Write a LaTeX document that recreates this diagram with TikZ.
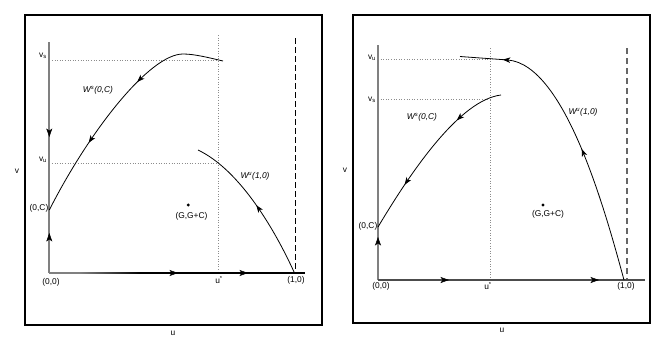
\documentclass[tikz,border=0pt]{standalone}
\usepackage{fontspec}
\setmainfont{Liberation Sans}
\usetikzlibrary{arrows.meta,decorations.markings}
\begin{document}
\begin{tikzpicture}[x=1pt,y=-1pt,
  frame/.style={line width=1.3pt},
  axis/.style={line width=1.7pt, draw=black!50},
  flow/.style={line width=0.8pt},
  guide/.style={draw=black!45, line width=0.7pt, dash pattern=on 0.8pt off 1.8pt},
  sepline/.style={line width=1pt, dash pattern=on 6pt off 3pt},
  lbl/.style={font=\fontsize{8.4}{9}\selectfont, inner sep=0pt},
  wlbl/.style={font=\fontsize{8.4}{9}\selectfont\itshape, inner sep=0pt},
  mk/.style={postaction={decorate,decoration={markings,mark=at position #1 with {\arrow[black]{Stealth[length=7.5pt,width=5.5pt,inset=2pt]}}}}},
  amk/.style={postaction={decorate,decoration={markings,mark=at position #1 with {\arrow[black]{Stealth[length=8.5pt,width=6pt,inset=2.2pt]}}}}},
]
\useasboundingbox (0,0) rectangle (665,346);
\fill[white] (0,0) rectangle (665,346);

% ================= LEFT PANEL =================
\coordinate (LF1) at (25,15);
\coordinate (LF2) at (322,325);
\draw[frame] (LF1) rectangle (LF2);

\coordinate (LO) at (49.3,273);
\coordinate (LT) at (49.3,42);
\coordinate (LC) at (49.3,210);
\coordinate (LE) at (305,273);
\coordinate (LB) at (140,273);
\coordinate (L1) at (294.5,273);
\coordinate (LDt) at (295,38);
\coordinate (LDb) at (295,273);
\coordinate (LUt) at (218,35);
\coordinate (LUb) at (218,273);
\coordinate (LS0) at (49.3,60);
\coordinate (LS1) at (218,60);
\coordinate (LV0) at (49.3,163);
\coordinate (LV1) at (218,163);
\coordinate (LWs0) at (223,61);
\coordinate (LWsP) at (183,54);
\coordinate (LWuE) at (198,150);

\draw[guide] (LUt) -- (LUb);
\draw[guide] (LS0) -- (LS1);
\draw[guide] (LV0) -- (LV1);
\draw[sepline] (LDt) -- (LDb);

\draw[axis] (LT) -- (LO);
\draw[axis] (LO) -- (LE);
\shade[left color=black!50, right color=black] (80,272.2) rectangle (140,273.8);
\draw[line width=1.5pt] (LB) -- (LE);
\path[amk=95pt] (LT) -- (LC);
\path[amk=40pt] (LO) -- (LC);
\path[amk=128.7pt] (LO) -- (LE);
\path[amk=198.7pt] (LO) -- (LE);

\draw[flow, mk=0.38, mk=0.69] (LWs0) .. controls (210,58) and (195,54) .. (LWsP)
   .. controls (150,54) and (90,130) .. (LC);
\draw[flow, mk=0.49] (L1) .. controls (275,230) and (240,170) .. (LWuE);

\fill (188.3,205) circle (1.6pt);

\node[lbl] (Lvs) at (43,56) {v\textsubscript{s}};
\node[lbl] (Lvu) at (43,160) {v\textsubscript{u}};
\node[lbl] (L0C) at (39,208) {(0,C)};
\node[lbl] (L00) at (51,282) {(0,0)};
\node[lbl] (Lus) at (219,280) {u\textsuperscript{*}};
\node[lbl] (L10) at (296,280) {(1,0)};
\node[lbl] (LG) at (191.5,216) {(G,G+C)};
\node[wlbl] (LWs) at (98,90) {W\textsuperscript{s}(0,C)};
\node[wlbl] (LWu) at (255,176) {W\textsuperscript{u}(1,0)};
\node[lbl] (Lv) at (17,171) {v};
\node[lbl] (Lu) at (173,333) {u};

% ================= RIGHT PANEL =================
\coordinate (RF1) at (353,15);
\coordinate (RF2) at (650,323);
\draw[frame] (RF1) rectangle (RF2);

\coordinate (RO) at (378,280);
\coordinate (RT) at (378,45);
\coordinate (RC) at (378,227);
\coordinate (RE) at (645,280);
\coordinate (R1) at (624,280);
\coordinate (RDt) at (627,48);
\coordinate (RDb) at (627,280);
\coordinate (RUt) at (490,48);
\coordinate (RUb) at (490,280);
\coordinate (RV0) at (378,59.3);
\coordinate (RV1) at (490,59.3);
\coordinate (RS0) at (378,99.3);
\coordinate (RS1) at (490,99.3);
\coordinate (RWuK) at (508,60);
\coordinate (RWuE) at (460,56.5);
\coordinate (RWs0) at (501,95);

\draw[guide] (RUt) -- (RUb);
\draw[guide] (RV0) -- (RV1);
\draw[guide] (RS0) -- (RS1);
\draw[sepline, draw=black!60, line width=1.6pt, dash pattern=on 6pt off 4pt] (RDt) -- (RDb);

\draw[axis] (RT) -- (RO);
\draw[axis, draw=black!70, line width=1.5pt] (RO) -- (RE);
\path[amk=43pt] (RO) -- (RC);
\path[amk=71pt] (RO) -- (RE);
\path[amk=221pt] (RO) -- (RE);

\draw[flow, mk=0.45, mk=0.86] (R1) .. controls (605,210) and (565,65) .. (RWuK) -- (RWuE);
\draw[flow, mk=0.28, mk=0.73] (RWs0) .. controls (460,100) and (412,170) .. (RC);

\fill (543,205) circle (1.6pt);

\node[lbl] (Rvu) at (372,58) {v\textsubscript{u}};
\node[lbl] (Rvs) at (372,100) {v\textsubscript{s}};
\node[lbl] (R0C) at (368,226) {(0,C)};
\node[lbl] (R00) at (381,286) {(0,0)};
\node[lbl] (Rus) at (488,286) {u\textsuperscript{*}};
\node[lbl] (R10) at (626,286) {(1,0)};
\node[lbl] (RG) at (548,214) {(G,G+C)};
\node[wlbl] (RWs) at (422,117) {W\textsuperscript{s}(0,C)};
\node[wlbl] (RWu) at (583,112) {W\textsuperscript{u}(1,0)};
\node[lbl] (Rv) at (345,170) {v};
\node[lbl] (Ru) at (502,330) {u};
\end{tikzpicture}
\end{document}
